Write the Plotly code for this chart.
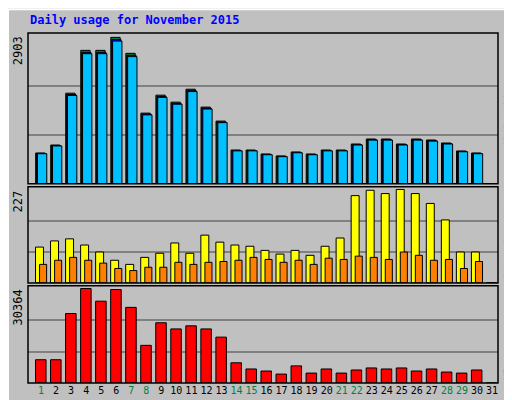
import plotly.graph_objects as go

days = list(range(1, 32))
hits_px = [145,137,85,42,42,29,45,105,87,94,81,99,113,142,142,146,148,144,146,142,142,136,131,131,136,131,132,135,143,145,176]
hits = [round((176 - p) * 2903 / 147) for p in hits_px]
hits[5] = 2903
files = [round(h * 0.985) for h in hits]
pages = [round(h * 0.975) for h in hits]
visits_h = [106,124,130,112,91,67,55,76,88,118,88,142,121,112,109,97,85,97,82,109,133,259,274,265,277,265,235,187,91,91,0]
sites_h = [55,67,76,67,58,43,37,46,46,61,55,61,64,67,76,70,61,67,55,73,70,79,76,70,91,82,67,70,43,64,0]
visits = [round(v * 227 / 277) for v in visits_h]
sites = [round(v * 227 / 277) for v in sites_h]
kb_h = [68,68,203,276,239,273,221,110,176,158,167,158,134,59,41,35,26,50,29,41,29,38,44,41,44,35,41,32,29,38,0]
kbytes = [round(v * 30364 / 276) for v in kb_h]
weekend = {1,7,8,14,15,21,22,28,29}
ticktext = [f"<span style='color:#008040'>{d}</span>" if d in weekend else str(d) for d in days]

MAXH, MAXV, MAXK = 2903, 227, 30364
line = dict(color="black", width=1)
fig = go.Figure()
def bar(y, color, off, w, ax):
    fig.add_bar(x=days, y=y, marker=dict(color=color, line=line), offset=off, width=w,
                xaxis="x", yaxis=ax, hoverinfo="skip")
bar(hits, "#008040", -0.36, 0.62, "y")
bar(files, "#0000ff", -0.30, 0.62, "y")
bar(pages, "#00c0ff", -0.24, 0.62, "y")
bar(visits, "#ffff00", -0.37, 0.53, "y2")
bar(sites, "#ff8000", -0.1, 0.47, "y2")
bar(kbytes, "#ff0000", -0.37, 0.7, "y3")

def yax(dom, mx):
    return dict(domain=dom, range=[0, mx * 1.03], tickvals=[mx / 3, 2 * mx / 3], showticklabels=False,
                showgrid=True, gridcolor="#808080", gridwidth=1.5, zeroline=False, fixedrange=True)

mono = "DejaVu Sans Mono"
fig.update_layout(
    width=512, height=400, margin=dict(l=20, r=22, t=25, b=22),
    paper_bgcolor="#c0c0c0", plot_bgcolor="#c0c0c0", showlegend=False, barmode="overlay",
    font=dict(family=mono, size=11, color="black"),
    xaxis=dict(range=[0.13, 31.4], tickvals=days, ticktext=ticktext, showgrid=False, ticks="",
               tickangle=0, anchor="y3", tickfont=dict(size=10), fixedrange=True),
    yaxis=yax([0.569, 1], MAXH), yaxis2=yax([0.286, 0.561], MAXV), yaxis3=yax([0, 0.278], MAXK),
)
fig.update_yaxes(anchor="x")
shapes = []
for d in ([0.569, 1], [0.286, 0.561], [0, 0.278]):
    shapes.append(dict(type="rect", xref="paper", yref="paper", x0=0, x1=1, y0=d[0], y1=d[1],
                       line=dict(color="black", width=1.5)))
shapes.append(dict(type="rect", xref="paper", yref="paper", x0=-20/470, x1=1+21/470, y0=-21/353, y1=1+24/353,
                   line=dict(color="white", width=2)))
fig.update_layout(shapes=shapes)
ann = [dict(text="<b>Daily usage for November 2015</b>", x=0, y=1 + 13/353, xanchor="left", yanchor="middle",
            font=dict(color="#0000ff", size=12, family=mono))]
for val, top in ((MAXH, 1), (MAXV, 0.561), (MAXK, 0.278)):
    ann.append(dict(text=str(val), x=-10/470, y=top - 0.005, xanchor="center", yanchor="top", textangle=-90,
                    font=dict(size=12)))
rx = 1 + 10/470
ann.append(dict(text="<span style='color:#00c0ff'>Pages</span>/<span style='color:#0000ff'>Files</span>/<span style='color:#008040'>Hits</span>",
                x=rx, y=0.57, xanchor="center", yanchor="bottom", textangle=-90, font=dict(size=11)))
ann.append(dict(text="<span style='color:#ff8000'>Sites</span>/<span style='color:#e0e000'>Visits</span>",
                x=rx, y=0.288, xanchor="center", yanchor="bottom", textangle=-90, font=dict(size=11)))
ann.append(dict(text="<span style='color:#ff0000'>KBytes</span>",
                x=rx, y=0.002, xanchor="center", yanchor="bottom", textangle=-90, font=dict(size=11)))
for a in ann:
    a.update(xref="paper", yref="paper", showarrow=False)
fig.update_layout(annotations=ann)
fig.write_html("out.html")
